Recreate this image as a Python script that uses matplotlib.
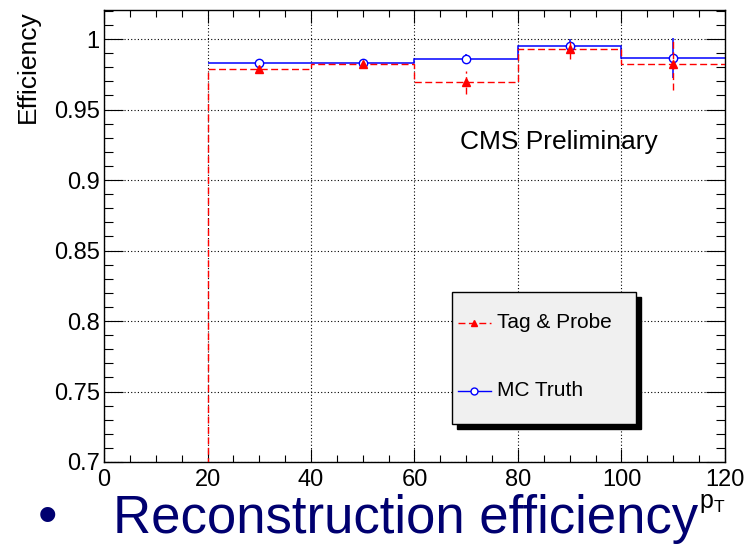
import matplotlib
matplotlib.use("Agg")
import matplotlib.pyplot as plt
import numpy as np
from matplotlib.patches import Rectangle
from matplotlib.lines import Line2D
from matplotlib.ticker import MultipleLocator, FuncFormatter

plt.rcParams['font.family'] = ['Liberation Sans', 'DejaVu Sans']

# reconstruction efficiency vs pT, bins of 20 GeV
pt_edges = [20, 40, 60, 80, 100, 120]
pt_centers = [30, 50, 70, 90, 110]

tp_eff = [0.979, 0.982, 0.9693, 0.9929, 0.9823]
tp_err = [0.002, 0.002, 0.0083, 0.007, 0.0184]

mc_eff = [0.983, 0.983, 0.9858, 0.9953, 0.9863]
mc_err = [0.001, 0.001, 0.0033, 0.0047, 0.0142]

W, H = 747, 547


def px(x, y):
    # pixel position (from top left) -> figure fraction
    return x / W, 1 - y / H


fig = plt.figure(figsize=(W / 100, H / 100), dpi=100)
x0, y0 = px(104, 462)
x1, y1 = px(725, 10)
ax = fig.add_axes([x0, y0, x1 - x0, y1 - y0])

red = '#ff0000'
blue = '#0000ff'
dash = (0, (5, 2.5))

# tag & probe: first bin (0-20) is empty, so the outline drops to zero at 20
ax.stairs([0] + tp_eff, [0] + pt_edges, baseline=None, color=red, lw=1, linestyle=dash, zorder=3)
ax.stairs(mc_eff, pt_edges, baseline=None, color=blue, lw=1.1, zorder=2)

ax.errorbar(pt_centers, mc_eff, yerr=mc_err, fmt='o', ms=6, mfc='white', mec=blue,
            mew=1.0, ecolor=blue, elinewidth=1.1, capsize=0, zorder=4)
eb = ax.errorbar(pt_centers, tp_eff, yerr=tp_err, fmt='^', ms=6, mfc=red, mec=red,
                 ecolor=red, elinewidth=1, capsize=0, zorder=5)
eb[2][0].set_linestyle(dash)

ax.set_xlim(0, 120)
ax.set_ylim(0.7, 1.0206)

ax.xaxis.set_major_locator(MultipleLocator(20))
ax.xaxis.set_minor_locator(MultipleLocator(5))
ax.yaxis.set_major_locator(MultipleLocator(0.05))
ax.yaxis.set_minor_locator(MultipleLocator(0.01))
ax.yaxis.set_major_formatter(FuncFormatter(lambda v, p: f"{round(v, 3):g}"))

ax.grid(True, which='major', color='black', lw=0.8, linestyle=(0, (1, 2)))
ax.set_axisbelow(True)

ax.tick_params(axis='both', which='both', direction='in', top=True, right=True,
               labelsize=17, width=0.8, colors='black')
ax.tick_params(axis='y', which='major', length=13.4, pad=3)
ax.tick_params(axis='y', which='minor', length=6.7)
ax.tick_params(axis='x', which='major', length=9.7, pad=5)
ax.tick_params(axis='x', which='minor', length=4.9)
for s in ax.spines.values():
    s.set_linewidth(1.0)

# axis titles, ROOT style
fig.text(*px(28, 10), 'Efficiency', rotation=90, ha='center', va='top', fontsize=19)
fig.text(*px(725, 508), r'$\mathregular{p_T}$', ha='right', va='baseline', fontsize=18)
fig.text(*px(460, 149), 'CMS Preliminary', ha='left', va='baseline', fontsize=19)

# legend box with hard shadow
lx0, ly0 = px(452, 424)
lx1, ly1 = px(636, 292)
sh = 5 / W, 5 / H
fig.patches.append(Rectangle((lx0 + sh[0], ly0 - sh[1]), lx1 - lx0, ly1 - ly0,
                             transform=fig.transFigure, facecolor='black', edgecolor='black',
                             zorder=10))
fig.patches.append(Rectangle((lx0, ly0), lx1 - lx0, ly1 - ly0, transform=fig.transFigure,
                             facecolor='#f0f0f0', edgecolor='black', lw=1.0, zorder=11))

entries = [('Tag & Probe', red, dash, '^', red, 323),
           ('MC Truth', blue, '-', 'o', 'white', 391)]
for label, col, ls, mk, mfc, ypix in entries:
    xa, ya = px(458, ypix)
    xb, _ = px(491, ypix)
    fig.lines.append(Line2D([xa, xb], [ya, ya], transform=fig.transFigure, color=col,
                            lw=1, linestyle=ls, zorder=12))
    fig.lines.append(Line2D([(xa + xb) / 2], [ya], transform=fig.transFigure, marker=mk,
                            ms=5, mfc=mfc, mec=col, linestyle='none', zorder=13))
    fig.text(*px(497, ypix), label, ha='left', va='center', fontsize=15, zorder=13)

# slide caption under the plot
navy = '#000070'
fig.text(*px(48, 533), '\u2022', ha='center', va='baseline', fontsize=40, color=navy)
fig.text(*px(113, 533), 'Reconstruction efficiency', ha='left', va='baseline',
         fontsize=38, color=navy)

fig.savefig('out.png', dpi=100)
